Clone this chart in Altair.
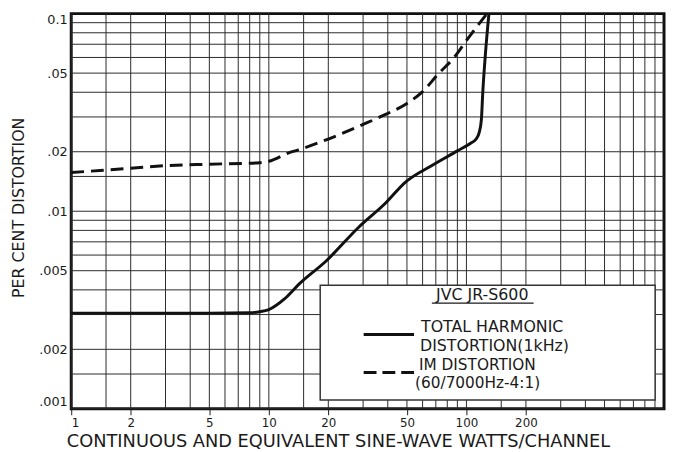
import altair as alt
import pandas as pd

# ---------------- data ----------------
THD_W = [1, 2, 5, 8, 9, 10, 12, 14.3, 19.5, 28.5, 39, 49, 66.6, 90, 105, 112, 116, 119, 121, 125, 130]
THD_D = [0.00305, 0.00305, 0.00305, 0.00306, 0.0031, 0.00318, 0.0036, 0.0043, 0.0056, 0.0083, 0.011,
         0.014, 0.017, 0.0202, 0.0221, 0.0232, 0.025, 0.029, 0.040, 0.064, 0.1]

IM_W = [1, 2, 3, 5, 9, 10, 12.7, 14, 20, 30, 39, 50, 60, 72, 87, 101, 127]
IM_D = [0.0157, 0.0165, 0.0170, 0.0173, 0.0176, 0.0179, 0.0198, 0.0204, 0.0232, 0.0275, 0.0309,
        0.0351, 0.0403, 0.0495, 0.0603, 0.0741, 0.1]

X_TICKS = [1, 2, 5, 10, 20, 50, 100, 200]
Y_TICKS = [0.001, 0.002, 0.005, 0.01, 0.02, 0.05, 0.1]
Y_TICK_LABELS = [".001", ".002", ".005", ".01", ".02", ".05", "0.1"]

GRID_MANTISSA = [1, 1.5, 2, 3, 4, 5, 6, 7, 8, 9]
X_DECADES = [1, 10, 100]
Y_DECADES = [0.001, 0.01]

X_TITLE = "CONTINUOUS AND EQUIVALENT SINE-WAVE WATTS/CHANNEL"
Y_TITLE = "PER CENT DISTORTION"
LEGEND_TITLE = "JVC JR-S600"
THD_LABEL = ["TOTAL HARMONIC", "DISTORTION(1kHz)"]
IM_LABEL = ["IM DISTORTION", "(60/7000Hz-4:1)"]

# ---------------- tables ----------------
thd_df = pd.DataFrame({"W": THD_W, "D": THD_D})
im_df = pd.DataFrame({"W": IM_W, "D": IM_D})
xgrid_df = pd.DataFrame({"W": [round(m * d, 6) for d in X_DECADES for m in GRID_MANTISSA]})
ygrid_df = pd.DataFrame({"D": [round(m * d, 7) for d in Y_DECADES for m in GRID_MANTISSA]})

FONT = "DejaVu Sans"
INK = "#1a1a1a"

y_label_expr = " : ".join(
    f"abs(datum.value - {v}) < {v * 0.01} ? '{t}'" for v, t in zip(Y_TICKS, Y_TICK_LABELS)
) + " : ''"

x_axis = alt.Axis(
    title=X_TITLE, values=X_TICKS, format="~g", grid=False, domain=False,
    ticks=True, tickSize=6, tickColor=INK, tickWidth=1,
    labelFont=FONT, labelFontSize=12, labelColor=INK, labelPadding=3,
    titleFont=FONT, titleFontSize=18, titleFontWeight="normal", titleColor=INK,
    titleX=270, titleY=38, titleAlign="center", titleBaseline="alphabetic",
)
y_axis = alt.Axis(
    title=Y_TITLE, values=Y_TICKS, labelExpr=y_label_expr, grid=False, domain=False,
    ticks=False, tickSize=0, labelFlush=True,
    labelFont=FONT, labelFontSize=13, labelColor=INK, labelPadding=4,
    titleFont=FONT, titleFontSize=16, titleFontWeight="normal", titleColor=INK,
    titleX=-48, titleY=196, titleAngle=270, titleAlign="center", titleBaseline="alphabetic",
)

xs = alt.Scale(type="log", domain=[1, 1000], nice=False)
ys = alt.Scale(type="log", domain=[0.001, 0.1], nice=False)


def X(field="W"):
    return alt.X(f"{field}:Q", scale=xs, axis=x_axis)


def Y(field="D"):
    return alt.Y(f"{field}:Q", scale=ys, axis=y_axis)


vgrid = alt.Chart(xgrid_df).mark_rule(color="#2a2a2a", strokeWidth=1).encode(x=X())
hgrid = alt.Chart(ygrid_df).mark_rule(color="#2a2a2a", strokeWidth=1).encode(y=Y())

im_line = alt.Chart(im_df).mark_line(
    color="#111", strokeWidth=3, strokeDash=[13, 7], interpolate="monotone"
).encode(x=X(), y=Y())
thd_line = alt.Chart(thd_df).mark_line(
    color="#111", strokeWidth=3, interpolate="monotone"
).encode(x=X(), y=Y())

one = alt.Data(values=[{}])

box = alt.Chart(one).mark_rect(fill="white", stroke="#333", strokeWidth=1.5).encode(
    x=alt.value(252), x2=alt.value(591), y=alt.value(275), y2=alt.value(391)
)


def txt(s, x, y, size=16, align="left"):
    return alt.Chart(one).mark_text(
        font=FONT, fontSize=size, color=INK, align=align, baseline="alphabetic"
    ).encode(x=alt.value(x), y=alt.value(y), text=alt.value(s))


legend_title = txt(LEGEND_TITLE, 416, 290, size=16, align="center")
underline = alt.Chart(one).mark_rule(color=INK, strokeWidth=1.2).encode(
    x=alt.value(365), x2=alt.value(468), y=alt.value(293)
)
thd_sample = alt.Chart(one).mark_rule(color="#111", strokeWidth=3).encode(
    x=alt.value(296), x2=alt.value(347), y=alt.value(324.7)
)
im_sample = alt.Chart(one).mark_rule(color="#111", strokeWidth=3, strokeDash=[13, 6]).encode(
    x=alt.value(296), x2=alt.value(347), y=alt.value(363.3)
)
t1 = txt(THD_LABEL[0], 354, 322)
t2 = txt(THD_LABEL[1], 353, 341)
t3 = txt(IM_LABEL[0], 352, 361, size=15.5)
t4 = txt(IM_LABEL[1], 348, 379, size=15.5)

chart = alt.layer(
    vgrid, hgrid, im_line, thd_line, box, legend_title, underline,
    thd_sample, im_sample, t1, t2, t3, t4
).properties(
    width=600, height=400,
    padding={"left": 64, "top": 3, "right": 2, "bottom": 41},
    autosize=alt.AutoSizeParams(type="none"),
    background="white",
).configure_view(
    stroke="#111", strokeWidth=3
)

chart.save("out.html", embed_options={"renderer": "svg", "actions": False})
